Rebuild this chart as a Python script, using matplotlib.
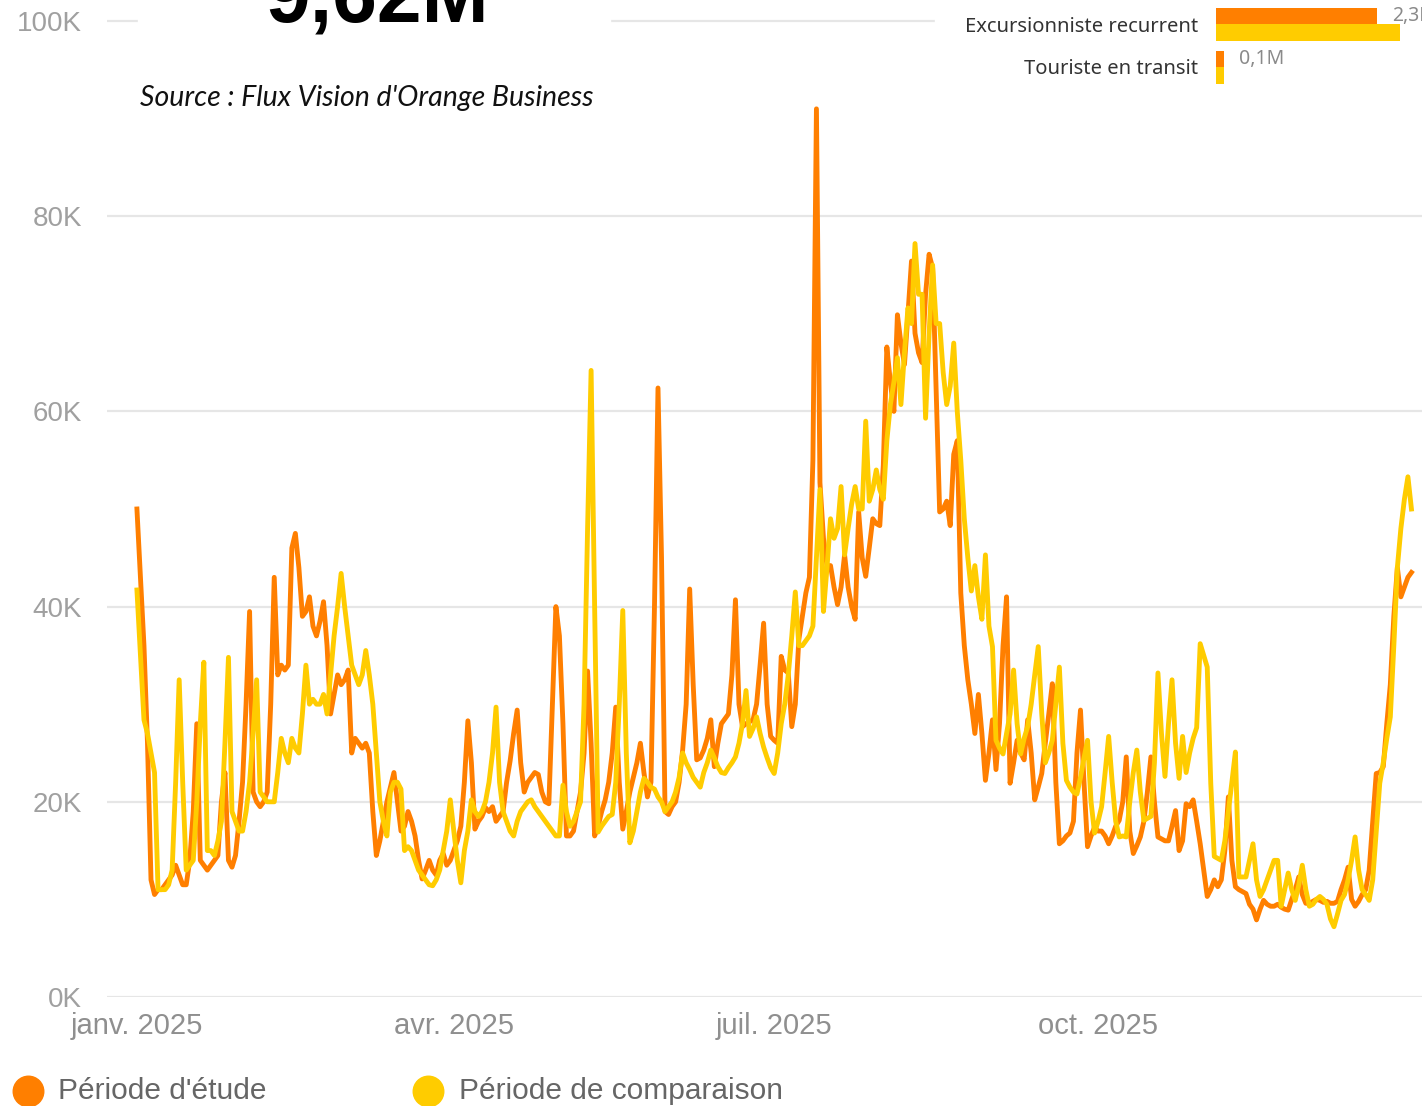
import numpy as np
import pandas as pd
import matplotlib
matplotlib.use("Agg")
import matplotlib.pyplot as plt
from matplotlib import font_manager
from matplotlib.patches import Rectangle
from matplotlib.lines import Line2D

# daily visitors (thousands), Jan 1 2025 onwards
etude = [
    50, 43, 36, 26, 12, 10.5, 11,
    11, 11.5, 12, 12.5, 13.5, 12.5, 11.5,
    11.5, 14, 19, 28, 14, 13.5, 13,
    13.5, 14, 14.5, 20, 23, 14, 13.3,
    14.5, 18, 22, 30, 39.5, 21, 20,
    19.5, 20, 21, 30, 43, 33, 34,
    33.5, 34, 46, 47.5, 44, 39, 39.5,
    41, 38, 37, 38.5, 40.5, 36, 29,
    31, 33, 32, 32.5, 33.5, 25, 26.5,
    26, 25.5, 26, 25, 19, 14.5, 16,
    18, 20, 21.5, 23, 20, 17, 17.5,
    19, 18, 16.5, 14, 12.1, 13, 14,
    13, 12.5, 14, 14.7, 13.5, 14, 15,
    16, 17.5, 22, 28.3, 24, 17.2, 18,
    18.5, 19.4, 19, 19.5, 18, 18.5, 19,
    22, 24.2, 27, 29.4, 24, 21, 22,
    22.5, 23, 22.8, 21, 20, 19.8, 30,
    40, 37, 28, 16.5, 16.5, 17, 19,
    21, 25, 33.4, 26, 16.5, 17.5, 19,
    20.2, 22, 25, 29.7, 22, 17.2, 19,
    21, 22.5, 24, 26, 23, 20.5, 22,
    40, 62.4, 45, 19, 18.7, 19.5, 20,
    22, 25.3, 30, 41.8, 32, 24.3, 24.5,
    25.3, 26.5, 28.4, 23.6, 26, 28, 28.5,
    29, 33, 40.7, 30, 27.7, 28, 28.2,
    28.4, 30, 34, 38.3, 30, 26.7, 26.3,
    26, 34.9, 33.5, 33.2, 27.7, 30, 36.6,
    39, 41.4, 43, 55, 91, 52.7, 47,
    44.2, 44.2, 42, 40.2, 42, 45.3, 42,
    40, 38.7, 49.7, 45, 43.1, 46, 49,
    48.5, 48.3, 54.5, 66.6, 63, 60, 69.9,
    67, 64.8, 70, 75.4, 68, 66, 65,
    72, 76.1, 74.7, 62, 49.7, 50, 50.8,
    48.3, 55.6, 57, 41.4, 36, 32.5, 30,
    27, 31, 27, 22.2, 25, 28.4, 23.3,
    28, 36, 41, 21.9, 24, 26.3, 25,
    24.3, 28.4, 25, 20.2, 21.5, 22.9, 26,
    29, 32.1, 22, 15.7, 16, 16.5, 16.8,
    18, 25, 29.4, 22, 15.4, 16.5, 17.4,
    17, 17, 16.5, 15.7, 16.5, 17.5, 18.1,
    20, 24.6, 17, 14.7, 15.5, 16.4, 18,
    21, 24.6, 20, 16.4, 16.2, 16, 16,
    17.5, 19.1, 15, 16, 19.8, 19.5, 20.2,
    18, 15.7, 13, 10.3, 11, 12, 11.3,
    12, 15, 20.5, 14, 11.3, 11, 10.8,
    10.6, 9.5, 9, 7.9, 9, 9.9, 9.5,
    9.3, 9.3, 9.5, 9.2, 9, 8.9, 10,
    11, 12.3, 10.5, 9.6, 9.6, 9.8, 10,
    9.9, 9.7, 9.8, 9.6, 9.6, 9.8, 11,
    12, 13.3, 10, 9.3, 9.8, 10.5, 11,
    13, 18, 22.9, 23, 23.6, 28, 32,
    39, 44, 41, 42, 43, 43.5,
]

comparaison = [
    41.7, 35, 28.4, 27, 25, 23, 11,
    11, 11, 11.5, 13, 22, 32.5, 22,
    13, 13.5, 14, 20, 28, 34.3, 15,
    15, 14.5, 16, 18, 26, 34.8, 19,
    18, 17, 17, 19, 22, 27, 32.5,
    21, 20.5, 20, 20, 20, 23, 26.5,
    25, 24, 26.5, 25.5, 25, 29, 34,
    30, 30.5, 30, 30, 31, 29, 33,
    37, 40, 43.4, 40, 37, 34, 33,
    32, 33, 35.5, 33, 30, 25, 20,
    18, 16.5, 21, 22, 22, 21.3, 15,
    15.4, 15, 14, 13, 12.5, 12, 11.5,
    11.4, 12, 13, 15, 17, 20.2, 17,
    14, 11.7, 15, 17, 20.2, 19, 18.5,
    19, 20, 22, 25, 29.7, 22, 19,
    18, 17, 16.5, 18, 19, 19.5, 20,
    20.2, 19.5, 19, 18.5, 18, 17.5, 17,
    16.5, 16.5, 21.7, 19, 17.5, 18, 19,
    20, 30, 48, 64.2, 40, 16.9, 17.5,
    18, 18.5, 18.7, 22, 30, 39.6, 25,
    15.8, 17, 19, 21, 22.4, 22, 21.5,
    21.3, 20.5, 20, 19, 19.5, 20, 21,
    22.5, 25, 24, 23.3, 22.5, 22, 21.5,
    23, 24, 25.3, 24.5, 23.6, 23, 22.9,
    23.5, 24, 24.6, 26, 28, 31.4, 26.7,
    27.5, 28.7, 27, 25.6, 24.5, 23.5, 22.9,
    25, 28, 30, 33, 37, 41.5, 36,
    36, 36.5, 37, 38, 45, 52, 39.5,
    44, 49, 47, 48, 52.3, 45.3, 48,
    50.5, 52.3, 50, 50, 59, 50.8, 52,
    54, 52, 51, 57, 60.7, 63, 65.5,
    60.7, 66, 70.6, 69, 77.2, 72, 72,
    59.3, 68, 75, 69, 69, 64, 60.7,
    62.6, 67, 60, 55, 49, 45, 41.6,
    44.2, 41, 38.7, 45.3, 38, 35.9, 26.3,
    25.5, 24.9, 27, 29, 33.5, 28, 24.9,
    26.5, 27.7, 30, 33, 35.9, 29, 24,
    25, 26.3, 30, 33.8, 26, 22.2, 21.5,
    21, 20.8, 22.5, 24.5, 26.3, 20, 16.8,
    18, 19.5, 23, 26.7, 22, 18, 16.4,
    16.5, 16.4, 20, 23, 25.3, 21, 18.1,
    18.3, 18.5, 24, 33.2, 27, 22.6, 28,
    32.5, 26, 22.4, 26.7, 23, 25, 26.5,
    27.6, 36.2, 35, 33.8, 21.9, 14.4, 14.2,
    14, 16, 19, 22, 25.1, 12.3, 12.3,
    12.3, 14, 15.7, 12, 10.3, 11, 12,
    13, 14, 14, 9.3, 11, 12.7, 11,
    9.9, 11.5, 13.5, 11, 9.3, 9.5, 10,
    10.3, 10, 9.5, 8, 7.2, 8.5, 9.9,
    10.5, 12, 14, 16.4, 13, 11, 10.5,
    9.9, 12, 17, 21.9, 24, 26.5, 28.7,
    36, 44, 48, 51, 53.3, 50,
]

month_ticks = ["2025-01-01", "2025-04-01", "2025-07-01", "2025-10-01"]
month_labels = ["janv. 2025", "avr. 2025", "juil. 2025", "oct. 2025"]
y_ticks = [0, 20, 40, 60, 80, 100]

profils = ["Excursionniste recurrent", "Touriste en transit"]
profil_etude = [2.3, 0.11]        # millions
profil_comparaison = [2.63, 0.11]
profil_labels = ["2,3M", "0,1M"]

ORANGE = "#FF7F00"
YELLOW = "#FFCC00"


def pick(*names):
    for n in names:
        try:
            font_manager.findfont(font_manager.FontProperties(family=n),
                                  fallback_to_default=False)
            return n
        except Exception:
            pass
    return "DejaVu Sans"


AXFONT = pick("Liberation Sans", "Arial", "DejaVu Sans")
UIFONT = pick("Noto Sans", "Open Sans", "DejaVu Sans")
SRCFONT = pick("Lato", "Open Sans", "DejaVu Sans")

W, H = 1422, 1106
fig = plt.figure(figsize=(W / 100, H / 100), dpi=100)


def fx(px):
    return px / W


def fy(py):
    return 1 - py / H


# main line chart
ax = fig.add_axes([fx(107), fy(997), fx(1422) - fx(107), fy(0) - fy(997)])
d_etude = pd.date_range("2025-01-01", periods=len(etude), freq="D")
d_comp = pd.date_range("2025-01-01", periods=len(comparaison), freq="D")
ax.plot(d_etude, etude, color=ORANGE, lw=3.5, solid_joinstyle="round", zorder=3)
ax.plot(d_comp, comparaison, color=YELLOW, lw=3.5, solid_joinstyle="round", zorder=4)

start = pd.Timestamp("2025-01-01")
ax.set_xlim(start - pd.Timedelta(days=8.5), start + pd.Timedelta(days=365))
ax.set_ylim(0, 997 / 9.76)

ax.set_yticks(y_ticks)
ax.set_yticklabels([f"{v}K" for v in y_ticks], fontsize=20, color="#a0a0a0",
                   fontfamily=AXFONT)
ax.set_xticks(pd.to_datetime(month_ticks))
ax.set_xticklabels(month_labels, fontsize=21, color="#8f8f8f", fontfamily=AXFONT)
ax.tick_params(axis="y", length=0, pad=18)
ax.tick_params(axis="x", length=0, pad=11)
ax.grid(axis="y", color="#e6e6e6", lw=1.6)
ax.set_axisbelow(True)
for s in ax.spines.values():
    s.set_visible(False)

# white panels covering the top gridline (header cards)
fig.add_artist(Rectangle((fx(138), fy(45)), fx(610) - fx(138), fy(0) - fy(45),
                         transform=fig.transFigure, color="white", zorder=5))
fig.add_artist(Rectangle((fx(935), fy(92)), fx(1422) - fx(935), fy(0) - fy(92),
                         transform=fig.transFigure, color="white", zorder=5))

fig.text(fx(265), fy(22), "9,62M", fontsize=58, fontweight="bold",
         fontfamily=AXFONT, color="black", va="baseline", ha="left", zorder=6)
fig.text(fx(140), fy(98), "Source : Flux Vision d'Orange Business", fontsize=20.5,
         style="italic", fontfamily=SRCFONT, color="#111111", va="center",
         ha="left", zorder=6)

# small bar chart, top right
ax2 = fig.add_axes([fx(1216), fy(92), fx(1422) - fx(1216), fy(0) - fy(92)])
ax2.set_zorder(6)
ax2.patch.set_alpha(0)
pos = np.arange(len(profils))
ax2.barh(pos - 0.19, profil_etude, height=0.37, color=ORANGE)
ax2.barh(pos + 0.19, profil_comparaison, height=0.39, color=YELLOW)
for p, v, lab in zip(pos, profil_etude, profil_labels):
    ax2.annotate(lab, xy=(v, p - 0.19), xytext=(11, 0), textcoords="offset points",
                 ha="left", va="center", fontsize=14, color="#8a8a8a",
                 fontfamily=UIFONT, annotation_clip=False)
ax2.set_xlim(0, 206 / 70)
ax2.set_ylim(1 + 25 / 43, -24 / 43)
ax2.set_xticks([])
ax2.set_yticks(pos)
ax2.set_yticklabels(profils, fontsize=14.5, color="#333333", fontfamily=UIFONT)
ax2.tick_params(axis="y", length=0, pad=13)
for s in ax2.spines.values():
    s.set_visible(False)

# legend
for cx, tx, col, lab in [(28, 58, ORANGE, "Période d'étude"),
                         (428, 459, YELLOW, "Période de comparaison")]:
    fig.add_artist(Line2D([fx(cx)], [fy(1091)], marker="o", markersize=22,
                          color=col, transform=fig.transFigure))
    fig.text(fx(tx), fy(1091), lab, fontsize=21.5, color="#666666",
             fontfamily=AXFONT, va="center", ha="left")

fig.savefig("out.png", dpi=100)
